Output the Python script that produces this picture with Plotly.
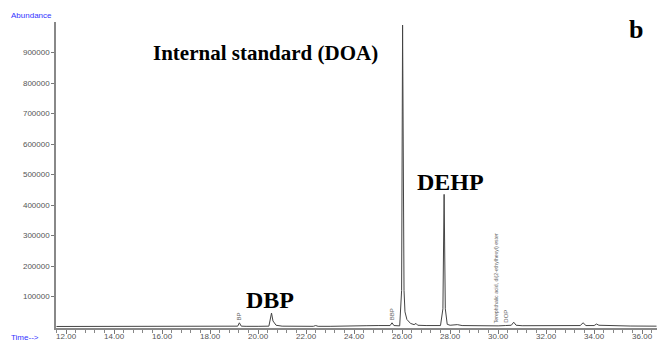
import plotly.graph_objects as go

# Retention time (min) and abundance
time_min = [11.6, 12.0, 13.0, 14.0, 15.0, 16.0, 17.0, 18.0, 19.0, 19.15, 19.22, 19.3, 19.5,
            19.8, 20.0, 20.45, 20.52, 20.56, 20.62, 20.75, 21.0, 21.5, 22.3, 22.4, 22.5,
            23.0, 24.0, 24.5, 25.0, 25.5, 25.58, 25.66, 25.9, 25.98, 26.02, 26.05, 26.08,
            26.12, 26.2, 26.35, 26.5, 26.58, 26.65, 27.0, 27.6, 27.7, 27.75, 27.8, 27.88,
            28.0, 28.3, 28.5, 29.0, 29.5, 30.0, 30.3, 30.55, 30.65, 30.75, 31.0, 32.0, 33.0,
            33.42, 33.54, 33.66, 34.0, 34.1, 34.2, 34.6, 35.5, 36.6]
abundance = [2000, 2000, 2000, 2000, 2000, 2000, 2000, 2500, 2500, 3000, 14000, 3000, 2500,
             3500, 2500, 3000, 30000, 46000, 20000, 6000, 3000, 2500, 2500, 5000, 2500,
             2500, 2500, 4500, 5000, 5000, 14000, 5000, 4000, 120000, 990000, 300000, 120000,
             50000, 25000, 12000, 8000, 12000, 6000, 5000, 5000, 60000, 435000, 60000, 9000,
             6000, 8000, 5000, 4000, 4000, 4000, 5000, 6000, 16000, 6000, 4500, 4000, 4000,
             5000, 14000, 5000, 5000, 10000, 6000, 4500, 3500, 3000]

y_ticks = [100000, 200000, 300000, 400000, 500000, 600000, 700000, 800000, 900000]
x_ticks = [12, 14, 16, 18, 20, 22, 24, 26, 28, 30, 32, 34, 36]
x_tick_labels = ["%.2f" % t for t in x_ticks]

fig = go.Figure()
fig.add_trace(go.Scatter(x=time_min, y=abundance, mode="lines",
                         line=dict(color="#444444", width=1), showlegend=False))

gray = "#555555"
fig.update_layout(
    width=657, height=341,
    margin=dict(l=56, r=0, t=22, b=13),
    paper_bgcolor="white", plot_bgcolor="white",
    font=dict(family="Liberation Sans, Arial", size=8, color=gray),
    xaxis=dict(range=[11.58, 36.62], tickvals=x_ticks, ticktext=x_tick_labels,
               showgrid=False, zeroline=False, showline=True, linecolor="#888888",
               linewidth=1.5, ticks="outside", ticklen=4, tickcolor="#777777",
               ticklabelstandoff=-4,
               minor=dict(dtick=0.4, tick0=12, ticks="outside", ticklen=3, tickcolor="#888888"),
               tickfont=dict(size=8, color=gray), automargin=False),
    yaxis=dict(range=[-3000, 1000000], tickvals=y_ticks,
               ticktext=[str(v) for v in y_ticks],
               showgrid=False, zeroline=False, showline=True, linecolor="#888888",
               linewidth=1.5, ticks="outside", ticklen=3, tickcolor="#777777",
               tickfont=dict(size=8, color=gray), automargin=False),
)

serif = "Liberation Serif, Times New Roman, serif"
ann = [
    dict(text="<b>Internal standard (DOA)</b>", x=0.158, y=0.899, font=dict(family=serif, size=21, color="black")),
    dict(text="<b>DEHP</b>", x=0.597, y=0.477, font=dict(family=serif, size=24, color="black")),
    dict(text="<b>DBP</b>", x=0.313, y=0.092, font=dict(family=serif, size=24, color="black")),
    dict(text="<b>b</b>", x=0.950, y=0.975, font=dict(family=serif, size=26, color="black")),
]
for a in ann:
    fig.add_annotation(xref="paper", yref="paper", showarrow=False, xanchor="left", yanchor="middle", **a)

fig.add_annotation(text="Abundance", xref="paper", yref="paper", x=-0.078, y=1.0, yanchor="bottom",
                   xanchor="left", showarrow=False, font=dict(family="Liberation Sans, Arial", size=8, color="#3333ff"))
fig.add_annotation(text="Time-->", xref="paper", yref="paper", x=-0.078, y=-0.01, yanchor="top",
                   xanchor="left", showarrow=False, font=dict(family="Liberation Sans, Arial", size=8, color="#3333ff"))

for txt, xt, yv, fs in [("BP", 19.22, 16000, 6), ("BBP", 25.58, 16000, 6),
                        ("Terephthalic acid, di(2-ethylhexyl) ester", 29.9, 5000, 5.2),
                        ("DOP", 30.35, 8000, 6)]:
    fig.add_annotation(text=txt, x=xt, y=yv, xref="x", yref="y", textangle=-90, showarrow=False,
                       yanchor="bottom", xanchor="center",
                       font=dict(family="Liberation Sans, Arial", size=fs, color="#666666"))

fig.write_html("out.html", config={"displayModeBar": False},
               post_script="document.body.style.margin='0px';document.body.style.overflow='hidden';")
